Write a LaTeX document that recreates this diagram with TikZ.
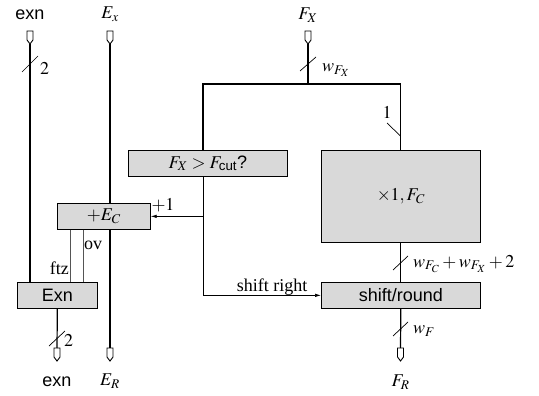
\documentclass[tikz,border=0pt]{standalone}
\usepackage{amsmath}
\usepackage{mathptmx}
\usepackage[no-math]{fontspec}
\setmainfont{Liberation Serif}
\setsansfont{Liberation Sans}
\usetikzlibrary{arrows.meta,calc}
\definecolor{boxgray}{HTML}{D9D9D9}
\definecolor{wiregray}{HTML}{555555}
\tikzset{
  portpin/.pic={\draw[line width=0.9pt,fill=white] (-3,-6.5) -- (3,-6.5) -- (3,2.5) -- (0,6.5) -- (-3,2.5) -- cycle;},
  box/.style={draw,line width=0.7pt,fill=boxgray,inner sep=0pt,anchor=north west},
  sig/.style={line width=1.2pt},
  ctl/.style={line width=0.7pt},
  flag/.style={line width=0.8pt,draw=wiregray},
  tick/.style={line width=0.7pt},
  arr/.style={ctl,-{Latex[length=6pt,width=3.5pt]}},
  lbl/.style={inner sep=0pt}
}
\begin{document}
\begin{tikzpicture}[x=1pt,y=-1pt,font=\fontsize{18}{21}\selectfont]
\useasboundingbox (0,0) rectangle (539,396);
% boxes
\node[box,minimum width=159,minimum height=26] (cut) at (128,150) {$F_X > F_{\text{\sffamily cut}}$\textsf{?}};
\node[box,minimum width=159,minimum height=92] (mul) at (321,150) {$\times 1, F_C$};
\node[box,minimum width=159,minimum height=26] (sh) at (321,282) {\textsf{shift/round}};
\node[box,minimum width=93,minimum height=26] (add) at (57,203) {$+E_C$};
\node[box,minimum width=80,minimum height=26] (exnb) at (17,282) {\textsf{Exn}};
% port labels
\node[lbl] (texn) at (30,15) {\textsf{exn}};
\node[lbl] (tEx) at (110,14) {$E_x$};
\node[lbl] (tFX) at (308,15) {$F_X$};
\node[lbl] (bexn) at (57,382) {\textsf{exn}};
\node[lbl] (bER) at (110,381) {$E_R$};
\node[lbl] (bFR) at (400.5,382) {$F_R$};
% pins
\pic at (30,37.5) {portpin};
\pic at (110,37.5) {portpin};
\pic at (308,37.5) {portpin};
\pic at (57,354.5) {portpin};
\pic at (110,354.5) {portpin};
\pic at (400.5,354.5) {portpin};
\coordinate (pExnT) at (30,44);
\coordinate (pExT) at (110,44);
\coordinate (pFXT) at (308,44);
\coordinate (pExnB) at (57,348);
\coordinate (pERB) at (110,348);
\coordinate (pFRB) at (400.5,348);
\coordinate (L) at (203,84);
\coordinate (R) at (400.5,84);
\coordinate (S) at (308,84);
\coordinate (ftzx) at (70,0);
\coordinate (ovx) at (83,0);
% main wires
\draw[sig] (pExnT) -- (exnb.north -| pExnT);
\draw[sig] (pExT) -- (add.north -| pExT);
\draw[sig] (add.south -| pExT) -- (pERB);
\draw[sig] (pFXT) -- (S);
\draw[sig] (cut.north -| L) -- (L) -- (R) -- (mul.north -| R);
\draw[sig] (mul.south) -- (sh.north);
\draw[sig] (sh.south) -- (pFRB);
\draw[sig] (exnb.south) -- (pExnB);
% control wires
\draw[arr] (cut.south -| L) -- (L |- sh.west) -- (sh.west);
\draw[arr] (L |- add.east) -- (add.east);
\draw[flag] (add.south -| ftzx) -- (exnb.north -| ftzx);
\draw[flag] (add.south -| ovx) -- (exnb.north -| ovx);
% width ticks
\draw[tick] (22,72) -- (38,56);
\node[lbl,anchor=west] (w2a) at (40,68) {$2$};
\draw[tick] (300,71) -- (316,57);
\node[lbl,anchor=west] (wfx) at (322,70) {$w_{F_X}$};
\draw[tick] (387,123) -- (400.5,136);
\node[lbl] (one) at (387,112) {$1$};
\draw[tick] (49,346) -- (65,331);
\node[lbl,anchor=west] (w2b) at (64,340) {$2$};
\draw[tick] (393,270) -- (408,256);
\node[lbl,anchor=west] (wsum) at (413,264) {$w_{F_C}+w_{F_X}+2$};
\draw[tick] (393,336) -- (408,322);
\node[lbl,anchor=west] (wf) at (413,331) {$w_F$};
% other labels
\node[lbl] (plus1) at (163,205) {$+1$};
\node[lbl] (shr) at (272,287) {shift right};
\node[lbl,anchor=east] (ftz) at (69,268) {ftz};
\node[lbl,anchor=west] (ov) at (84,245) {ov};
\end{tikzpicture}
\end{document}
